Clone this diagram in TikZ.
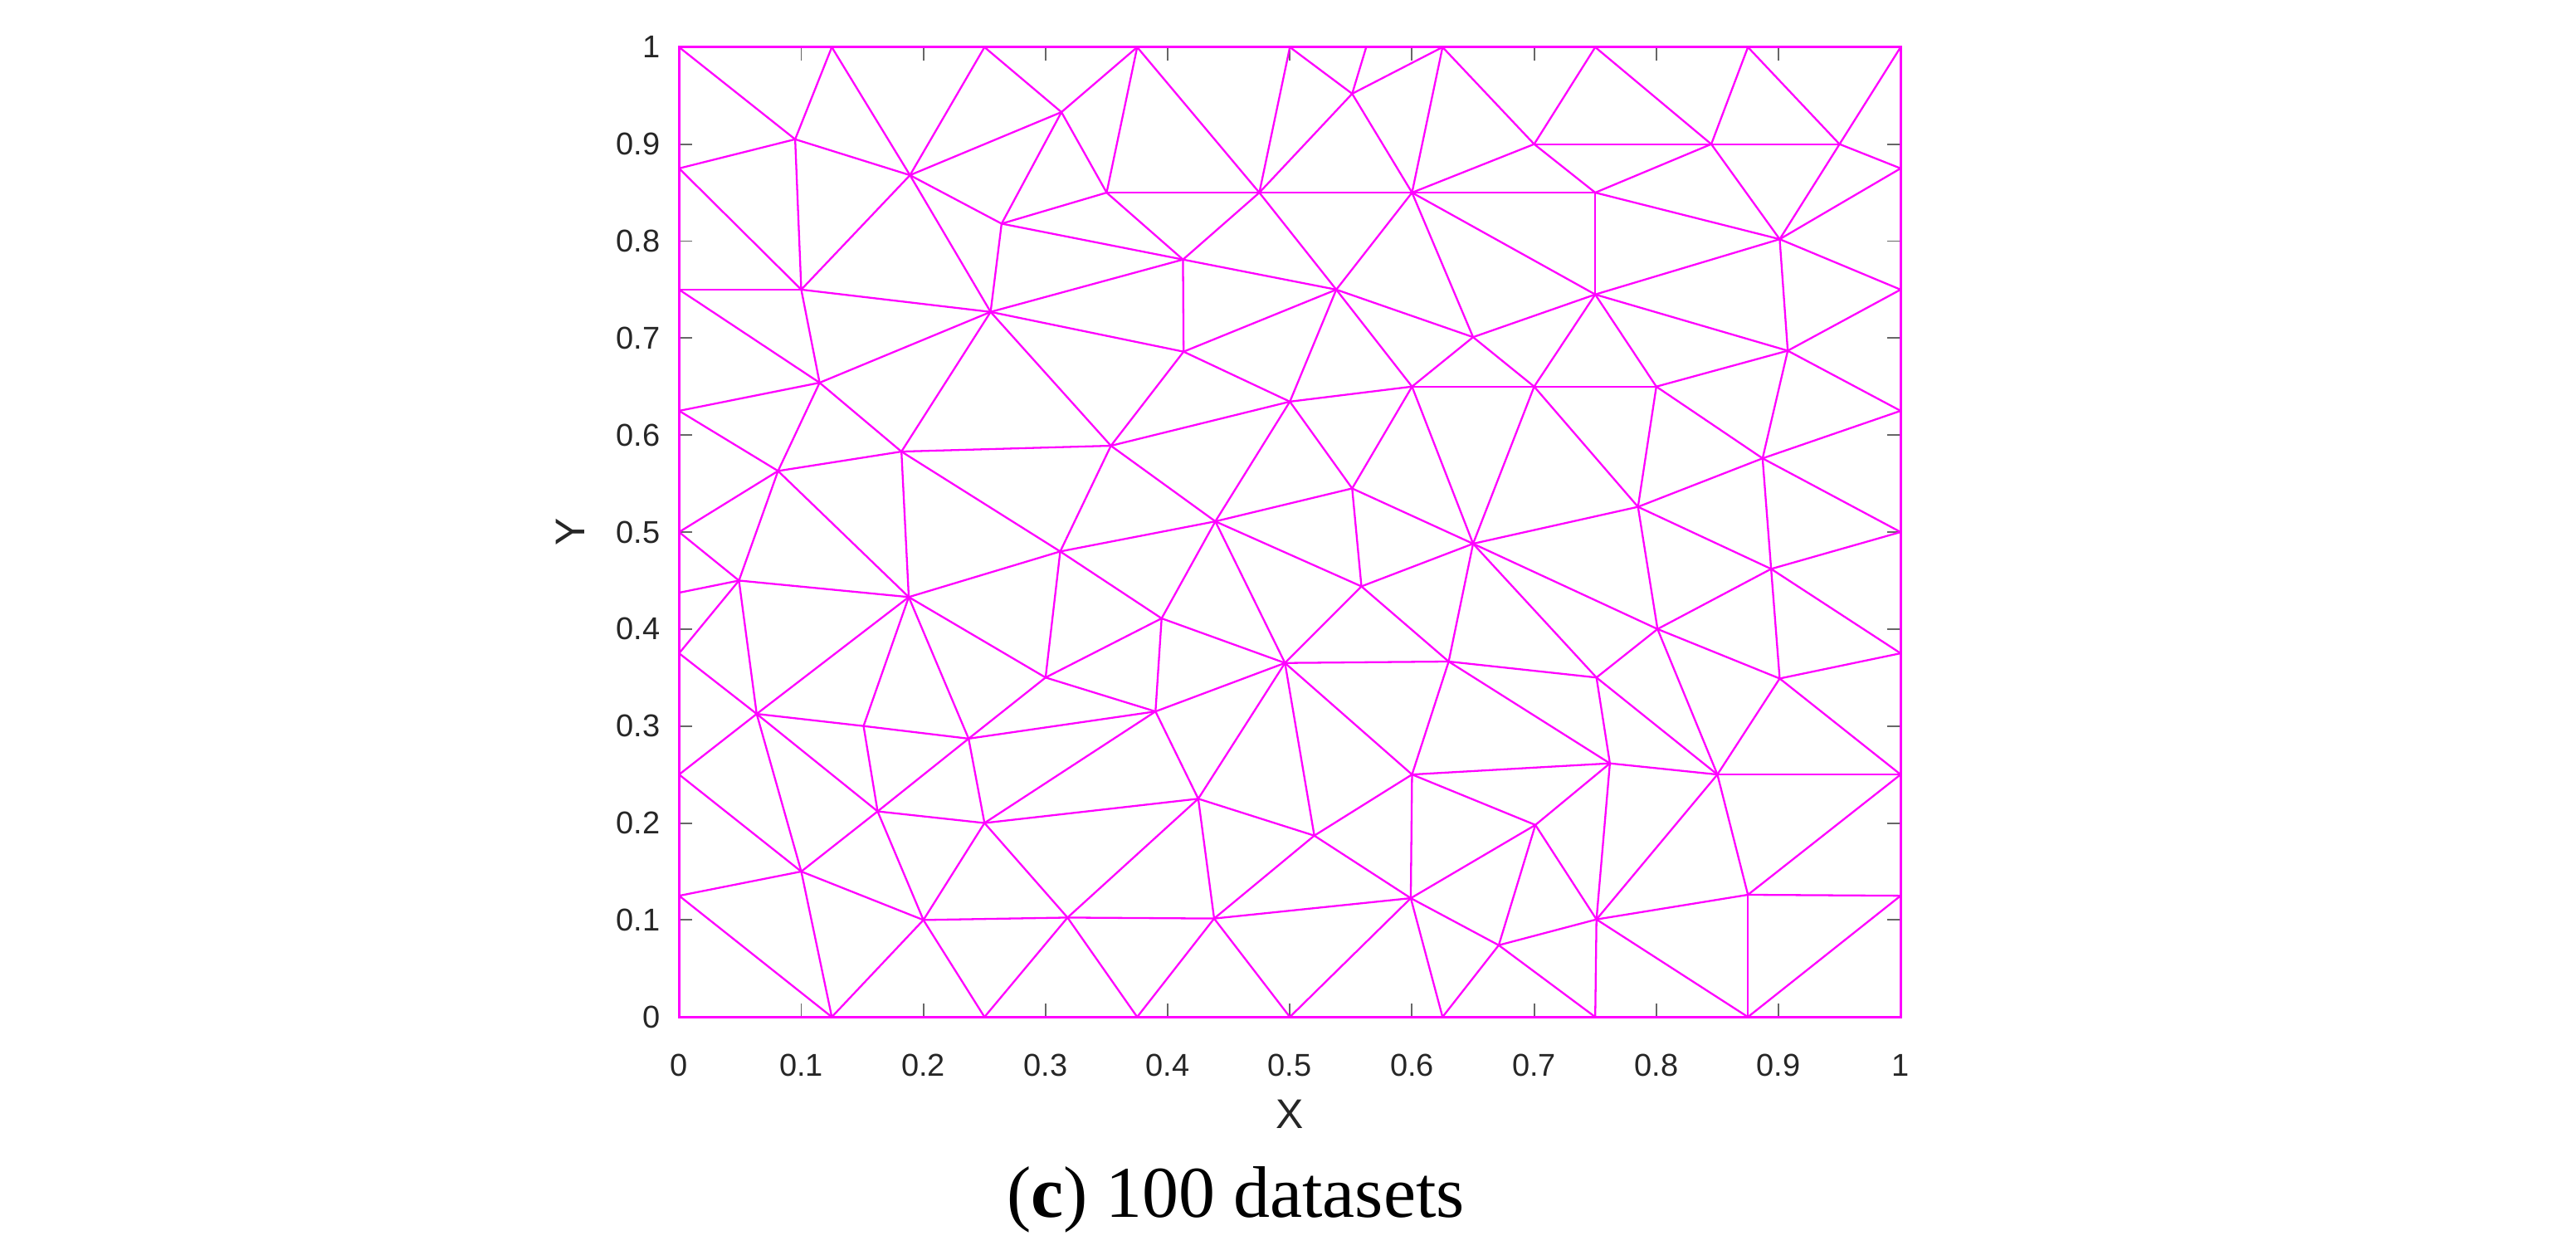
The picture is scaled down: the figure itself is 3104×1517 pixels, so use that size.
\documentclass[tikz,border=0pt]{standalone}
\usepackage{fontspec}
\setmainfont{Liberation Serif}
\newfontfamily\axfont{Liberation Sans}
\definecolor{mag}{HTML}{FF00FF}
\definecolor{tk}{HTML}{262626}
\tikzset{
  mesh/.style={draw=mag, line width=0.65pt, line cap=round},
  frame/.style={draw=mag, line width=0.9pt},
  tickmark/.style={draw=tk!70, line width=0.55pt},
  ticklab/.style={text=tk, font=\axfont\fontsize{10.8}{13}\selectfont, inner sep=0pt},
  axlab/.style={text=tk, font=\axfont\fontsize{14.2}{17}\selectfont, inner sep=0pt}
}
\begin{document}
\begin{tikzpicture}[x=0.01cm,y=0.01cm]
\useasboundingbox (0,0) rectangle (3104,1517);
\begin{scope}[shift={(818.3,291.8)}, x=14.71cm, y=11.677cm]
% boundary points
\coordinate (c00) at (0,0); \coordinate (c10) at (1,0);
\coordinate (c01) at (0,1); \coordinate (c11) at (1,1);
\foreach \n/\v in {125/0.125,250/0.25,375/0.375,500/0.5,625/0.625,750/0.75,875/0.875}{
  \coordinate (L\n) at (0,\v); \coordinate (R\n) at (1,\v);
  \coordinate (B\n) at (\v,0); \coordinate (T\n) at (\v,1);}
\coordinate (L4375) at (0,0.4375);
\coordinate (T5625) at (0.5625,1);
% interior points
\coordinate (A) at (0.095,0.905);
\coordinate (B) at (0.189,0.868);
\coordinate (C) at (0.313,0.933);
\coordinate (D) at (0.264,0.818);
\coordinate (E) at (0.100,0.750);
\coordinate (F) at (0.255,0.727);
\coordinate (G) at (0.115,0.654);
\coordinate (H) at (0.182,0.583);
\coordinate (I) at (0.081,0.563);
\coordinate (J) at (0.350,0.850);
\coordinate (K) at (0.4125,0.781);
\coordinate (M) at (0.413,0.686);
\coordinate (N) at (0.3535,0.589);
\coordinate (P) at (0.049,0.450);
\coordinate (Q) at (0.188,0.433);
\coordinate (R) at (0.312,0.480);
\coordinate (S) at (0.300,0.350);
\coordinate (T) at (0.0635,0.3125);
\coordinate (U) at (0.151,0.300);
\coordinate (V) at (0.237,0.287);
\coordinate (W) at (0.1625,0.212);
\coordinate (X1) at (0.250,0.200);
\coordinate (Y1) at (0.100,0.150);
\coordinate (Z1) at (0.200,0.100);
\coordinate (AA) at (0.318,0.1025);
\coordinate (BB) at (0.439,0.511);
\coordinate (CC) at (0.5586,0.444);
\coordinate (DD) at (0.650,0.488);
\coordinate (EE) at (0.395,0.411);
\coordinate (FF) at (0.496,0.365);
\coordinate (GG) at (0.630,0.3665);
\coordinate (HH) at (0.390,0.315);
\coordinate (II) at (0.425,0.225);
\coordinate (JJ) at (0.520,0.187);
\coordinate (KK) at (0.600,0.250);
\coordinate (LL) at (0.599,0.1225);
\coordinate (MM) at (0.438,0.1015);
\coordinate (NN) at (0.671,0.074);
\coordinate (OO) at (0.538,0.750);
\coordinate (PP) at (0.551,0.545);
\coordinate (a1) at (0.551,0.952);
\coordinate (a2) at (0.475,0.850);
\coordinate (a3) at (0.600,0.850);
\coordinate (a4) at (0.650,0.701);
\coordinate (a5) at (0.500,0.6345);
\coordinate (a6) at (0.600,0.650);
\coordinate (b1) at (0.700,0.900);
\coordinate (b2) at (0.845,0.900);
\coordinate (b3) at (0.950,0.900);
\coordinate (b4) at (0.750,0.850);
\coordinate (b5) at (0.901,0.802);
\coordinate (b6) at (0.750,0.745);
\coordinate (b7) at (0.9076,0.687);
\coordinate (b8) at (0.700,0.650);
\coordinate (b9) at (0.800,0.650);
\coordinate (b10) at (0.887,0.576);
\coordinate (ZZ) at (0.785,0.526);
\coordinate (QQ) at (0.894,0.462);
\coordinate (RR) at (0.801,0.400);
\coordinate (SS) at (0.901,0.349);
\coordinate (TT) at (0.751,0.350);
\coordinate (UU) at (0.762,0.2615);
\coordinate (VV) at (0.850,0.250);
\coordinate (WW) at (0.701,0.198);
\coordinate (XX) at (0.751,0.1006);
\coordinate (YY) at (0.875,0.126);
% ticks
\foreach \i in {0,...,10}{
  \pgfmathsetmacro\t{\i/10}
  \draw[tickmark] (\t,0) -- ++(0,0.0137);
  \draw[tickmark] (\t,1) -- ++(0,-0.0137);
  \draw[tickmark] (0,\t) -- ++(0.0109,0);
  \draw[tickmark] (1,\t) -- ++(-0.0109,0);
}
\foreach \i/\l in {0/0,1/0.1,2/0.2,3/0.3,4/0.4,5/0.5,6/0.6,7/0.7,8/0.8,9/0.9,10/1}{
  \pgfmathsetmacro\t{\i/10}
  \node[ticklab, anchor=center] (xl\i) at ([yshift=-0.58cm]\t,0) {\l};
  \node[ticklab, anchor=east] (yl\i) at ([xshift=-0.22cm]0,\t) {\l};
}
% mesh edges
\foreach \p/\q in {c01/A, A/T125, A/L875, A/B, A/E, T125/B, B/T250, T250/C, C/T375, B/C, B/D, C/D, C/J, D/J, D/K,
 L875/E, B/E, B/F, D/F, L750/E, E/F, F/K, F/M, F/N, F/H, F/G, E/G, L750/G, G/L625, G/H, G/I, L625/I, I/H, H/N, H/R, N/R, H/Q, I/Q, L500/I,
 T375/J, T375/a2, J/a2, T500/a2, T500/a1, a1/T5625, a1/T625, a1/a2, a1/a3, T625/a3, T625/b1, a2/a3, a3/b4, a3/b1, a3/b6, a3/a4, a3/OO, a2/OO, a2/K, J/K, K/OO, K/M, M/OO, M/a5, M/N, OO/a4, OO/a5, OO/a6, a4/b6, a4/b8, a4/a6, a5/a6, a6/b8, a6/DD, a6/PP, a5/PP, a5/N, a5/BB, N/BB, PP/BB, PP/CC, PP/DD, R/BB,
 b1/T750, T750/b2, b2/T875, T875/b3, b3/c11, b1/b2, b2/b3, b3/R875, b3/b5, b2/b5, b2/b4, b1/b4, b4/b6, b4/b5, b5/R875, b5/R750, b5/b6, b5/b7, b6/b7, b6/b8, b6/b9, b8/b9, b8/DD, b8/ZZ, b9/ZZ, b9/b7, b9/b10, b7/R750, b7/R625, b7/b10, b10/R625, b10/R500, b10/ZZ, DD/ZZ, ZZ/RR,
 L500/P, P/I, L4375/P, P/L375, P/Q, P/T, Q/R, Q/S, Q/T, Q/U, Q/V, R/S, S/V, L375/T, T/L250, T/U, T/W, T/Y1, U/V, U/W, V/W, V/X1, W/X1, W/Y1, W/Z1, X1/Z1, X1/AA, L250/Y1, Y1/L125, Y1/Z1, Y1/B125, L125/B125, B125/Z1, Z1/AA, Z1/B250, B250/AA,
 R/EE, BB/EE, BB/CC, BB/FF, S/EE, S/HH, EE/HH, EE/FF, V/HH, X1/HH, HH/FF, HH/II, X1/II, AA/II, AA/MM, AA/B375, II/FF, II/JJ, II/MM, FF/GG, FF/CC, FF/KK, FF/JJ, CC/DD, CC/GG, DD/GG, GG/KK, KK/LL, KK/JJ, JJ/LL, JJ/MM, MM/LL, MM/B375, MM/B500, LL/B500, LL/B625, LL/NN, NN/B625,
 ZZ/QQ, b10/QQ, QQ/R500, QQ/RR, QQ/SS, QQ/R375, SS/R375, SS/R250, SS/VV, RR/SS, RR/TT, RR/VV, DD/RR, DD/TT, GG/TT, GG/UU, TT/UU, TT/VV, UU/VV, KK/UU, KK/WW, LL/WW, WW/UU, WW/XX, WW/NN, UU/XX, VV/XX, VV/R250, VV/YY, XX/YY, YY/R250, YY/R125, YY/B875, R125/B875, XX/B875, XX/B750, XX/NN, NN/B750}
  \draw[mesh] (\p) -- (\q);
\draw[frame] (c00) rectangle (c11);
\end{scope}
\node[axlab] (xlab) at (1554,175) {X};
\node[axlab, rotate=90] (ylab) at (687,876) {Y};
\node[inner sep=0pt, font=\fontsize{25}{30}\selectfont] (cap) at (1489,72) {(\textbf{c}) 100 datasets};
\end{tikzpicture}
\end{document}
